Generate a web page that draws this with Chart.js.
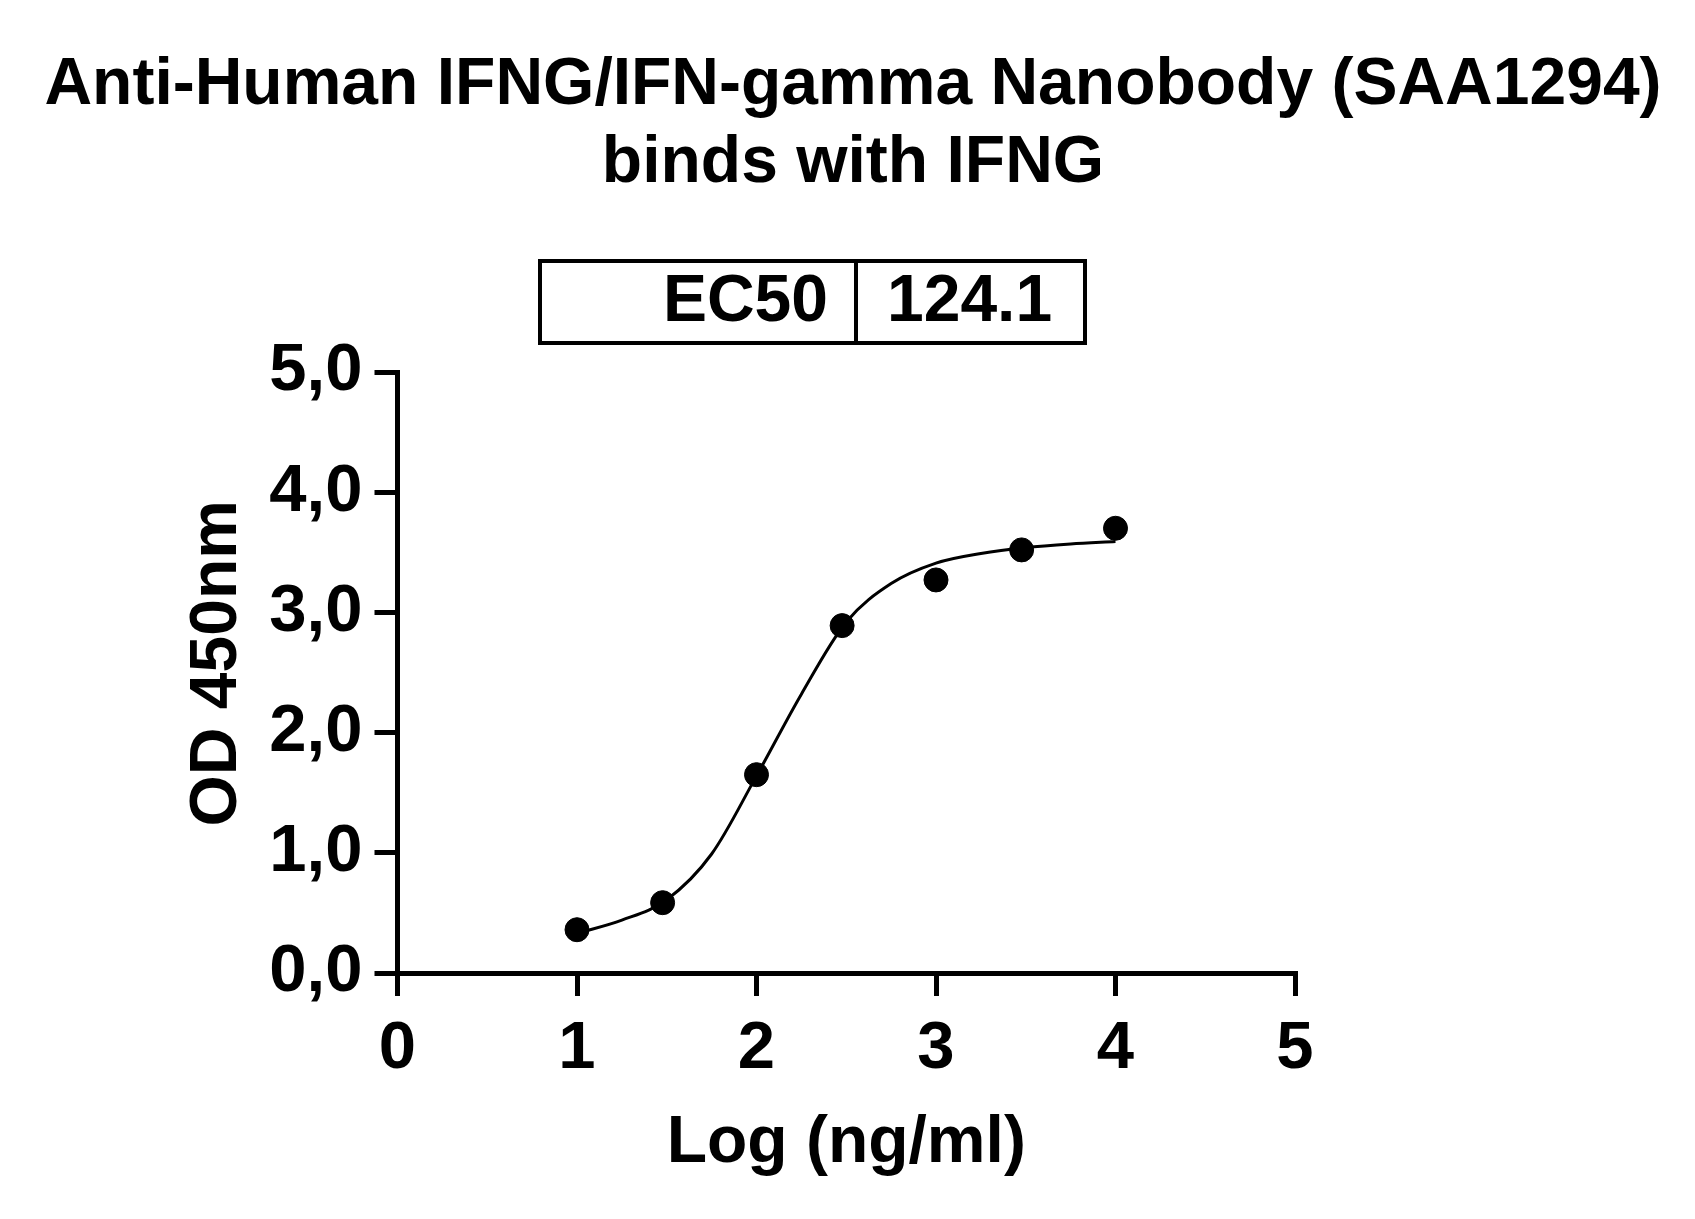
<!DOCTYPE html>
<html>
<head>
<meta charset="utf-8">
<title>Anti-Human IFNG/IFN-gamma Nanobody (SAA1294) binds with IFNG</title>
<script src="https://cdn.jsdelivr.net/npm/chart.js@4.4.1/dist/chart.umd.min.js"></script>
<style>
    html, body { margin: 0; padding: 0; background: #fff; overflow: hidden; }
    #bindingChart { display: block; }
</style>
</head>
<body>
<canvas id="bindingChart" width="1695" height="1219"></canvas>
<script>
// Measured points: log concentration (ng/ml) and OD 450nm
const logConc = [1, 1.477, 2, 2.477, 3, 3.477, 4];
const odValues = [0.36, 0.585, 1.65, 2.89, 3.27, 3.52, 3.70];

// Fitted curve
const curveLogConc = [1, 1.25, 1.5, 1.75, 2, 2.25, 2.5, 2.75, 3, 3.25, 3.5, 3.75, 4];
const curveOd = [0.33, 0.44, 0.61, 0.99, 1.64, 2.32, 2.92, 3.24, 3.41, 3.49, 3.54, 3.57, 3.59];

const xTickLabels = ['0', '1', '2', '3', '4', '5'];
const yTickLabels = ['0,0', '1,0', '2,0', '3,0', '4,0', '5,0'];

const titleLines = ['Anti-Human IFNG/IFN-gamma Nanobody (SAA1294)', 'binds with IFNG'];
const ec50Label = 'EC50';
const ec50Value = '124.1';

const FONT = '"Liberation Sans", Arial, sans-serif';

document.addEventListener("DOMContentLoaded", function () {
    drawChart();
});

// two-line heading, centred on the whole figure rather than the plot
const heading = {
    id: 'heading',
    afterDraw(chart) {
        const ctx = chart.ctx;
        ctx.save();
        ctx.fillStyle = '#000';
        ctx.font = 'bold 66px ' + FONT;
        ctx.textAlign = 'center';
        ctx.textBaseline = 'middle';
        ctx.fillText(titleLines[0], 853, 86);
        ctx.fillText(titleLines[1], 853, 164);
        ctx.restore();
    }
};

// small table with the EC50 value above the plot
const ec50Box = {
    id: 'ec50Box',
    afterDraw(chart) {
        const ctx = chart.ctx;
        ctx.save();
        ctx.strokeStyle = '#000';
        ctx.lineWidth = 4;
        ctx.strokeRect(540, 261, 545, 82);
        ctx.beginPath();
        ctx.moveTo(856, 261);
        ctx.lineTo(856, 343);
        ctx.stroke();
        ctx.fillStyle = '#000';
        ctx.font = 'bold 66px ' + FONT;
        ctx.textBaseline = 'middle';
        ctx.textAlign = 'right';
        ctx.fillText(ec50Label, 828, 303);
        ctx.textAlign = 'left';
        ctx.fillText(ec50Value, 887, 303);
        ctx.restore();
    }
};

function drawChart() {
    const ctx = document.getElementById('bindingChart').getContext('2d');

    const points = logConc.map((x, i) => ({ x: x, y: odValues[i] }));
    const curve = curveLogConc.map((x, i) => ({ x: x, y: curveOd[i] }));

    new Chart(ctx, {
        type: 'scatter',
        data: {
            datasets: [
                {
                    label: 'fit',
                    data: curve,
                    showLine: true,
                    borderColor: '#000',
                    borderWidth: 3,
                    pointRadius: 0,
                    cubicInterpolationMode: 'monotone',
                    order: 2
                },
                {
                    label: 'IFNG',
                    data: points,
                    backgroundColor: '#000',
                    borderColor: '#000',
                    pointRadius: 12,
                    pointHoverRadius: 12,
                    order: 1
                }
            ]
        },
        options: {
            responsive: false,
            animation: false,
            devicePixelRatio: 1,
            layout: {
                padding: { left: 185, right: 400, top: 372, bottom: 0 }
            },
            scales: {
                x: {
                    type: 'linear',
                    min: 0,
                    max: 5,
                    afterFit: function (scale) { scale.height = 246; },
                    border: { display: true, color: '#000', width: 5 },
                    grid: {
                        drawOnChartArea: false,
                        drawTicks: true,
                        tickLength: 23,
                        lineWidth: 5,
                        color: '#000'
                    },
                    ticks: {
                        stepSize: 1,
                        padding: 13,
                        color: '#000',
                        font: { family: FONT, size: 67, weight: 'bold' },
                        callback: (value, index) => xTickLabels[index]
                    },
                    title: {
                        display: true,
                        text: 'Log (ng/ml)',
                        color: '#000',
                        font: { family: FONT, size: 66, weight: 'bold', lineHeight: 1 },
                        padding: { top: 0, bottom: 42 }
                    }
                },
                y: {
                    type: 'linear',
                    min: 0,
                    max: 5,
                    afterFit: function (scale) { scale.width = 212.5; },
                    border: { display: true, color: '#000', width: 5 },
                    grid: {
                        drawOnChartArea: false,
                        drawTicks: true,
                        tickLength: 23,
                        lineWidth: 5,
                        color: '#000'
                    },
                    ticks: {
                        stepSize: 1,
                        padding: 12,
                        color: '#000',
                        font: { family: FONT, size: 67, weight: 'bold' },
                        callback: (value, index) => yTickLabels[index]
                    },
                    title: {
                        display: true,
                        // leading space nudges the rotated label a little upward
                        text: ' OD 450nm',
                        color: '#000',
                        font: { family: FONT, size: 66, weight: 'bold', lineHeight: 1 },
                        padding: { top: 0, bottom: 0 }
                    }
                }
            },
            plugins: {
                legend: { display: false },
                tooltip: { enabled: false },
                title: { display: false }
            }
        },
        plugins: [heading, ec50Box]
    });
}
</script>
</body>
</html>
